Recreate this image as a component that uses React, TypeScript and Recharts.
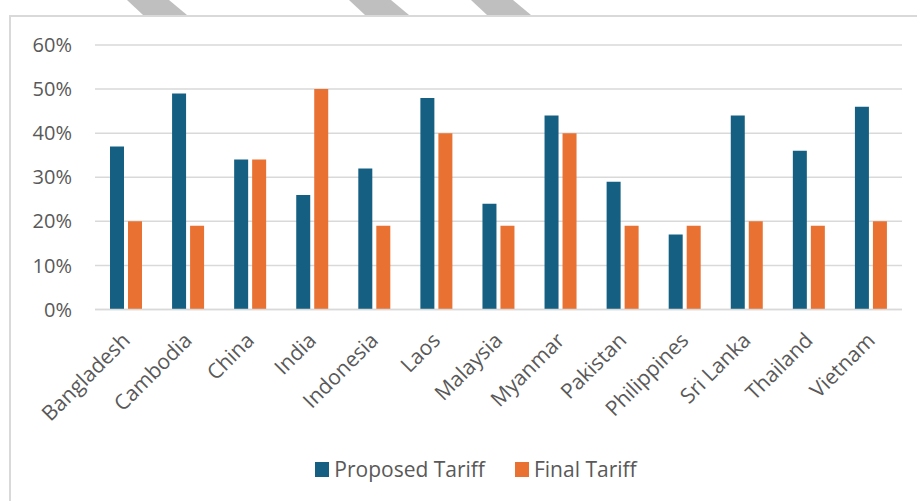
import { BarChart, Bar, XAxis, YAxis, CartesianGrid, Legend } from "recharts";

const countries = [
  "Bangladesh", "Cambodia", "China", "India", "Indonesia", "Laos", "Malaysia",
  "Myanmar", "Pakistan", "Philippines", "Sri Lanka", "Thailand", "Vietnam",
];
const proposedTariff = [37, 49, 34, 26, 32, 48, 24, 44, 29, 17, 44, 36, 46];
const finalTariff = [20, 19, 34, 50, 19, 40, 19, 40, 19, 19, 20, 19, 20];
const yTicks = [0, 10, 20, 30, 40, 50, 60];
const seriesNames = ["Proposed Tariff", "Final Tariff"];

const data = countries.map((country, i) => ({
  country,
  proposed: proposedTariff[i],
  final: finalTariff[i],
}));

const FONT = "'Open Sans', 'Liberation Sans', sans-serif";
const TEXT = "#595959";
const GRID = "#D9D9D9";
const BLUE = "#156082";
const ORANGE = "#E97132";

// decorative tabs peeking above the frame
const tabs = [127, 349, 471];

function CountryTick({ x, y, payload }: any) {
  return (
    <g transform={`translate(${x},${y + 25})`}>
      <text
        textAnchor="end"
        dy="0.35em"
        transform="rotate(-45)"
        fill={TEXT}
        fontSize={21}
        fontFamily={FONT}
      >
        {payload.value}
      </text>
    </g>
  );
}

function LegendBox({ payload }: any) {
  const items = [...(payload || [])].sort(
    (a: any, b: any) => seriesNames.indexOf(a.value) - seriesNames.indexOf(b.value)
  );
  return (
    <div style={{ display: "flex", justifyContent: "center", alignItems: "center", height: 40, gap: 30 }}>
      {items.map((p: any) => (
        <div key={p.value} style={{ display: "flex", alignItems: "center", gap: 5 }}>
          <span style={{ width: 14, height: 15, background: p.color, display: "inline-block" }} />
          <span style={{ fontFamily: FONT, fontSize: 21, color: TEXT, lineHeight: "40px" }}>{p.value}</span>
        </div>
      ))}
    </div>
  );
}

export default function App() {
  return (
    <div style={{ position: "absolute", left: 0, top: 0, width: 917, height: 501, background: "#fff", overflow: "hidden" }}>
      <div style={{ position: "absolute", left: 9, top: 15, width: 980, height: 600, border: `2px solid ${GRID}` }} />
      <svg width={917} height={17} style={{ position: "absolute", left: 0, top: 0 }}>
        {tabs.map((a) => (
          <polygon key={a} points={`${a},0 ${a + 42},0 ${a + 60},15 ${a + 16},15`} fill="#BFBFBF" />
        ))}
      </svg>
      <div style={{ position: "absolute", left: 0, top: 0 }}>
        <BarChart
          width={917}
          height={501}
          data={data}
          margin={{ top: 45, right: 15, bottom: 12, left: 0 }}
          barSize={14}
          barGap={4}
        >
          <CartesianGrid vertical={false} stroke={GRID} strokeWidth={1.5} />
          <XAxis
            dataKey="country"
            interval={0}
            height={139.5}
            tickLine={false}
            tickSize={0}
            axisLine={{ stroke: GRID, strokeWidth: 1.5 }}
            tick={<CountryTick />}
          />
          <YAxis
            width={95}
            domain={[0, 60]}
            ticks={yTicks}
            tickFormatter={(v) => `${v}%`}
            axisLine={false}
            tickLine={false}
            tickSize={0}
            tickMargin={23}
            tick={{ fill: TEXT, fontSize: 20, fontFamily: FONT }}
          />
          <Legend
            verticalAlign="bottom"
            content={<LegendBox />}
            wrapperStyle={{ left: 0, width: 952, height: 40 }}
          />
          <Bar dataKey="proposed" name={seriesNames[0]} fill={BLUE} isAnimationActive={false} />
          <Bar dataKey="final" name={seriesNames[1]} fill={ORANGE} isAnimationActive={false} />
        </BarChart>
      </div>
    </div>
  );
}
